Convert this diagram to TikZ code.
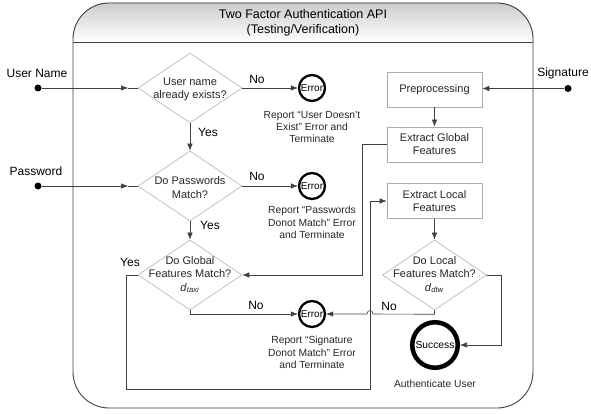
\documentclass[tikz,border=0pt]{standalone}
\usepackage{fontspec}
\setmainfont{Liberation Sans}
\usetikzlibrary{shapes.geometric,arrows.meta}
\begin{document}
\begin{tikzpicture}[x=1pt,y=-1pt,
  conn/.style={draw=black!75,line width=0.6pt},
  arr/.style={conn,-{Latex[length=7pt,width=5.5pt]}},
  dia/.style={diamond,draw=gray!60,line width=0.6pt,minimum width=104pt,minimum height=70pt,inner sep=0pt},
  dtext/.style={align=center,font=\fontsize{11}{13.5}\selectfont,inner sep=0pt,text=black!85},
  stepbox/.style={rectangle,draw=gray!65,line width=0.6pt,minimum width=95pt,minimum height=35pt,align=center,font=\fontsize{11}{13}\selectfont,inner sep=0pt,text=black!85},
  err/.style={circle,draw=black,line width=2.3pt,minimum size=26pt,inner sep=0pt,font=\fontsize{10}{12}\selectfont},
  suc/.style={circle,draw=black,line width=4.5pt,minimum size=45.5pt,inner sep=0pt,font=\fontsize{10.3}{12}\selectfont},
  rep/.style={align=center,font=\fontsize{10.3}{12.3}\selectfont,inner sep=0pt,text=black!85},
  lab/.style={font=\fontsize{12}{14}\selectfont,inner sep=0pt},
  dot/.style={circle,fill=black,minimum size=7pt,inner sep=0pt}]
\useasboundingbox (0,0) rectangle (591,414);

% container
\fill[top color=gray!40,bottom color=white] (73,42) -- (73,39) .. controls (73,19.1) and (89.1,3) .. (109,3) -- (497,3) .. controls (516.9,3) and (533,19.1) .. (533,39) -- (533,42) -- cycle;
\draw[black!75,line width=0.9pt,rounded corners=36pt] (73,3) rectangle (533,408);
\draw[black!75,line width=0.9pt] (73,42) -- (533,42);
\node[font=\fontsize{12.5}{15}\selectfont,align=center,inner sep=0pt] (title) at (303,22.5) {Two Factor Authentication API\\(Testing/Verification)};

% inputs
\node[lab] (unl) at (37,73) {User Name};
\node[dot] (un) at (38,88) {};
\node[lab] (pwl) at (36,171) {Password};
\node[dot] (pw) at (38,186) {};
\node[lab] (sgl) at (563,73) {Signature};
\node[dot] (sg) at (568,88.5) {};

% diamonds
\node[dia] (d1) at (190,88) {};
\node[dtext] at (190,89.5) {User name\\already exists?};
\node[dia] (d2) at (190,186) {};
\node[dtext] at (190,187.5) {Do Passwords\\Match?};
\node[dia] (d3) at (190,275) {};
\node[dtext] at (190,274.5) {Do Global\\Features Match?\\\textit{d}\textsubscript{\textit{taxi}}};
\node[dia] (dl) at (434.5,275) {};
\node[dtext] at (434.5,274.5) {Do Local\\Features Match?\\\textit{d}\textsubscript{\textit{dtw}}};

% boxes
\node[stepbox] (pp) at (434.5,89.5) {Preprocessing};
\node[stepbox] (eg) at (434.5,144.5) {Extract Global\\Features};
\node[stepbox] (el) at (434.5,201) {Extract Local\\Features};

% terminals
\node[err] (e1) at (312,88) {Error};
\node[rep] at (312,127) {Report “User Doesn’t\\Exist” Error and\\Terminate};
\node[err] (e2) at (312,186) {Error};
\node[rep] at (312,222.5) {Report “Passwords\\Donot Match” Error\\and Terminate};
\node[err] (e3) at (312,314) {Error};
\node[rep] at (312,352.5) {Report “Signature\\Donot Match” Error\\and Terminate};
\node[suc] (sc) at (435,345) {Success};
\node[rep] at (435,384) {Authenticate User};

% connectors
\coordinate (a1) at (128,88);
\coordinate (a2) at (128,186);
\draw[arr] (un) -- (a1);
\draw[conn] (a1) -- (d1.west);
\draw[arr] (pw) -- (a2);
\draw[conn] (a2) -- (d2.west);
\draw[arr] (sg) -- (pp.east |- sg);

\draw[arr] (d1.east) -- (e1.west);
\node[lab] at (257,79) {No};
\draw[arr] (d2.east) -- (e2.west);
\node[lab] at (257,176) {No};

\draw[arr] (d1) -- (d2);
\node[lab] at (208,132) {Yes};
\draw[arr] (d2) -- (d3);
\node[lab] at (210,225) {Yes};

\draw[arr] (pp) -- (eg);
\draw[arr] (el) -- (dl);

\draw[arr] (eg.west) -- ++(-24,0) |- (d3.east);

\coordinate (yb) at (370,389);
\draw[arr] (d3.west) -- ++(-11,0) |- (yb) |- (el.west);
\node[lab] at (130,262) {Yes};

\draw[arr] (d3.south) |- (e3.west);
\node[lab] at (256,305) {No};

\draw[arr] (dl.south) -- ++(0,4) -- (373,314) .. controls (373,309.5) and (367,309.5) .. (367,314) -- (e3.east);
\node[lab] at (389,306) {No};

\draw[arr] (dl.east) -- ++(14,0) |- (sc.east);
\end{tikzpicture}
\end{document}
